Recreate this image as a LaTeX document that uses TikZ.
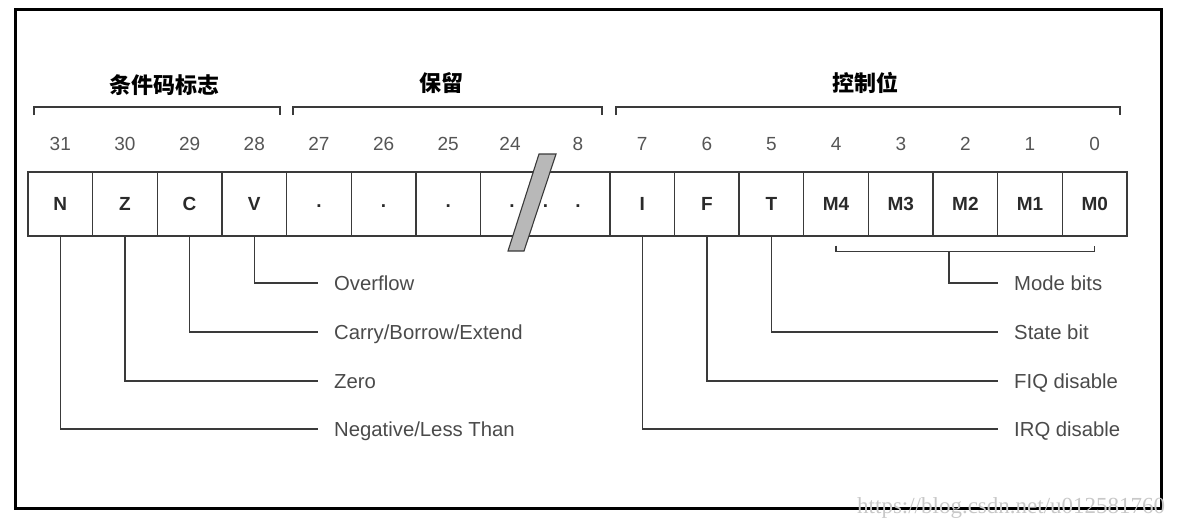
\documentclass[tikz,border=0pt]{standalone}
\usepackage{fontspec}
\setmainfont{Liberation Sans}
\newfontfamily\cjk{Noto Sans CJK SC}
\newfontfamily\wmfont{Liberation Serif}
\definecolor{linec}{HTML}{3A3A3A}
\definecolor{textc}{HTML}{2A2A2A}
\definecolor{slashc}{HTML}{B8B8B8}
\definecolor{wmc}{HTML}{C8C8C8}
\begin{document}
\begin{tikzpicture}[x=1pt,y=-1pt,
  cell/.style={draw=linec, line width=1.3pt, minimum width=64.65pt, minimum height=64pt,
    inner sep=0pt, font=\bfseries\fontsize{19}{22}\selectfont, text=textc},
  bitno/.style={inner sep=0pt, font=\fontsize{19}{22}\selectfont, text=textc!80!white},
  dotc/.style={inner sep=0pt, font=\bfseries\fontsize{19}{22}\selectfont, text=textc},
  lab/.style={anchor=west, inner xsep=16pt, inner ysep=0pt, text height=14pt, text depth=0pt,
    font=\fontsize{20.3}{23}\selectfont, text=textc!85!white},
  ttl/.style={inner sep=0pt, font=\cjk\bfseries\fontsize{22}{26}\selectfont, text=black},
  lead/.style={draw=linec, line width=1.4pt},
  brk/.style={draw=linec, line width=1.4pt}]
\useasboundingbox (0,0) rectangle (1188,528);
% frame
\draw[line width=3pt, black] (15.5,9.5) rectangle (1161,508.5);
% titles
\node[ttl] (t1) at (164,85) {条件码标志};
\node[ttl] (t2) at (441,83) {保留};
\node[ttl] (t3) at (865,83) {控制位};
% brackets
\draw[brk] (34,115) -- (34,107) -- (280,107) -- (280,115);
\draw[brk] (293,115) -- (293,107) -- (602,107) -- (602,115);
\draw[brk] (616,115) -- (616,107) -- (1120,107) -- (1120,115);
% cells
\node[cell] (cN) at (60.3,204) {N};
\node[cell] (cZ) at (125.0,204) {Z};
\node[cell] (cC) at (189.6,204) {C};
\node[cell] (cV) at (254.3,204) {V};
\node[cell] (c27) at (318.9,204) {};
\node[cell] (c26) at (383.6,204) {};
\node[cell] (c25) at (448.2,204) {};
\node[cell, minimum width=129.3pt] (cw) at (545.2,204) {};
\node[cell] (cI) at (642.2,204) {I};
\node[cell] (cF) at (706.8,204) {F};
\node[cell] (cT) at (771.5,204) {T};
\node[cell] (cM4) at (836.1,204) {M4};
\node[cell] (cM3) at (900.8,204) {M3};
\node[cell] (cM2) at (965.4,204) {M2};
\node[cell] (cM1) at (1030.0,204) {M1};
\node[cell] (cM0) at (1094.7,204) {M0};
% dots
\node[dotc] (d27) at (318.9,206) {.};
\node[dotc] (d26) at (383.6,206) {.};
\node[dotc] (d25) at (448.2,206) {.};
\node[dotc] (d24) at (512,206) {.};
\node[dotc] (dm) at (545.5,206) {.};
\node[dotc] (d8) at (578,206) {.};
% bit numbers
\node[bitno] (b31) at (60.3,144) {31};
\node[bitno] (b30) at (125.0,144) {30};
\node[bitno] (b29) at (189.6,144) {29};
\node[bitno] (b28) at (254.3,144) {28};
\node[bitno] (b27) at (318.9,144) {27};
\node[bitno] (b26) at (383.6,144) {26};
\node[bitno] (b25) at (448.2,144) {25};
\node[bitno] (b24) at (510,144) {24};
\node[bitno] (b8) at (578,144) {8};
\node[bitno] (b7) at (642.2,144) {7};
\node[bitno] (b6) at (706.8,144) {6};
\node[bitno] (b5) at (771.5,144) {5};
\node[bitno] (b4) at (836.1,144) {4};
\node[bitno] (b3) at (900.8,144) {3};
\node[bitno] (b2) at (965.4,144) {2};
\node[bitno] (b1) at (1030.0,144) {1};
\node[bitno] (b0) at (1094.7,144) {0};
% slash
\draw[fill=slashc, draw=linec, line width=1.1pt] (539,154) -- (556,154) -- (524,251) -- (508,251) -- cycle;
% labels left
\node[lab] (lOv) at (318,283) {Overflow};
\node[lab] (lCa) at (318,332) {Carry/Borrow/Extend};
\node[lab] (lZe) at (318,381) {Zero};
\node[lab] (lNe) at (318,429) {Negative/Less Than};
% labels right
\node[lab] (lMo) at (998,283) {Mode bits};
\node[lab] (lSt) at (998,332) {State bit};
\node[lab] (lFi) at (998,381) {FIQ disable};
\node[lab] (lIr) at (998,429) {IRQ disable};
% leaders
\draw[lead] (cV.south) |- (lOv.west);
\draw[lead] (cC.south) |- (lCa.west);
\draw[lead] (cZ.south) |- (lZe.west);
\draw[lead] (cN.south) |- (lNe.west);
\draw[lead] (cT.south) |- (lSt.west);
\draw[lead] (cF.south) |- (lFi.west);
\draw[lead] (cI.south) |- (lIr.west);
% mode bits bracket
\coordinate (mb) at (949,251);
\draw[brk] ([yshift=-9pt]cM4.south) -- ([yshift=-15pt]cM4.south) -- ([yshift=-15pt]cM0.south) -- ([yshift=-9pt]cM0.south);
\draw[lead] (mb) |- (lMo.west);
% watermark
\node[anchor=west, inner sep=0pt, font=\wmfont\fontsize{23}{26}\selectfont, text=wmc] (wm) at (857,508) {https://blog.csdn.net/u012581760};
\end{tikzpicture}
\end{document}
